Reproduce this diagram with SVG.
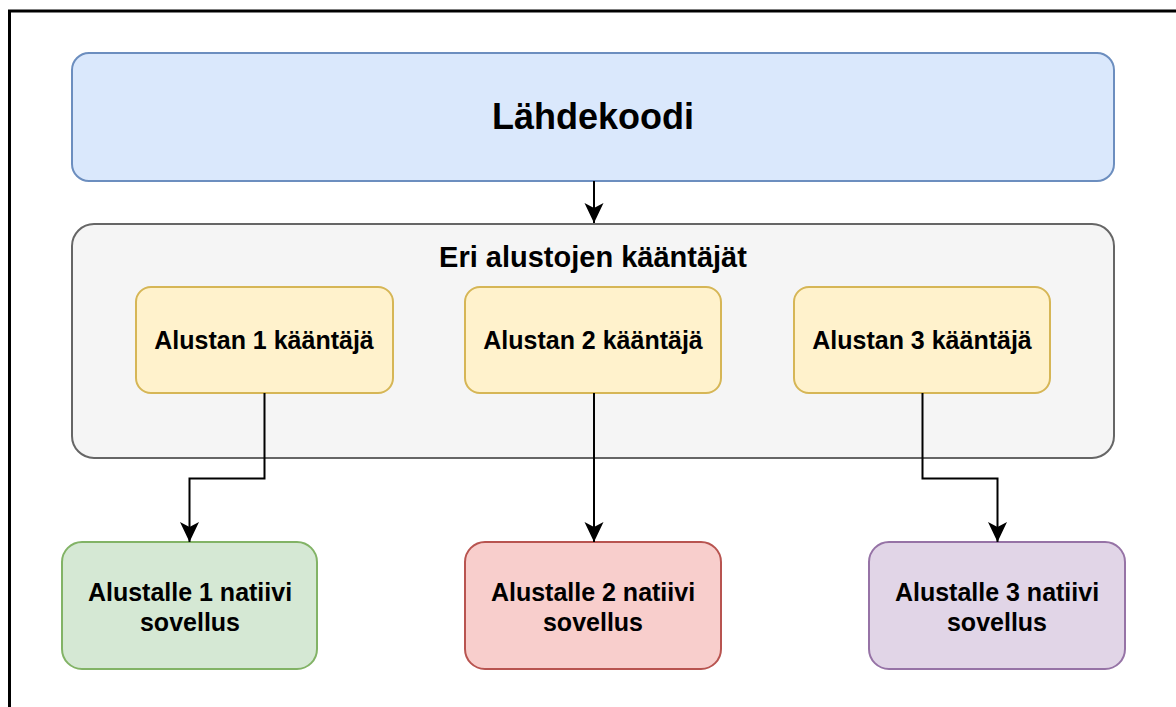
<svg xmlns="http://www.w3.org/2000/svg" width="1176" height="707" viewBox="0 0 1176 707">
<style>
text{font-family:"Liberation Sans",Arial,sans-serif;font-weight:bold;fill:#000;text-anchor:middle}
.box{stroke-width:2}
.edge{fill:none;stroke:#000;stroke-width:2}
.lbl{font-size:25px}
</style>
<defs>
<marker id="arr" markerUnits="userSpaceOnUse" markerWidth="22" markerHeight="22" viewBox="-21 -11 22 22" refX="0" refY="0" orient="auto">
<path d="M0,0 L-20,-9.5 L-15,0 L-20,9.5 Z" fill="#000"/>
</marker>
</defs>
<rect width="1176" height="707" fill="#fff"/>
<path d="M9.5,707 V11 H1176" fill="none" stroke="#000" stroke-width="3"/>
<g id="lahdekoodi">
<rect class="box" x="72" y="53" width="1042" height="128" rx="17" fill="#dae8fc" stroke="#6c8ebf"/>
<text x="593" y="129" style="font-size:36px">Lähdekoodi</text>
</g>
<g id="kaantajat">
<rect class="box" x="72" y="224" width="1042" height="234" rx="22" fill="#f5f5f5" stroke="#666666"/>
<text x="593" y="267" style="font-size:29px">Eri alustojen kääntäjät</text>
</g>
<g id="alusta1">
<rect class="box" x="136" y="287" width="257" height="106" rx="15" fill="#fff2cc" stroke="#d6b656"/>
<text class="lbl" x="264" y="349">Alustan 1 kääntäjä</text>
</g>
<g id="alusta2">
<rect class="box" x="465" y="287" width="256" height="106" rx="15" fill="#fff2cc" stroke="#d6b656"/>
<text class="lbl" x="593" y="349">Alustan 2 kääntäjä</text>
</g>
<g id="alusta3">
<rect class="box" x="794" y="287" width="256" height="106" rx="15" fill="#fff2cc" stroke="#d6b656"/>
<text class="lbl" x="922" y="349">Alustan 3 kääntäjä</text>
</g>
<g id="sovellus1">
<rect class="box" x="62" y="542" width="255" height="127" rx="20" fill="#d5e8d4" stroke="#82b366"/>
<text class="lbl" x="190" y="601">Alustalle 1 natiivi</text>
<text class="lbl" x="190" y="631">sovellus</text>
</g>
<g id="sovellus2">
<rect class="box" x="465" y="542" width="256" height="127" rx="20" fill="#f8cecc" stroke="#b85450"/>
<text class="lbl" x="593" y="601">Alustalle 2 natiivi</text>
<text class="lbl" x="593" y="631">sovellus</text>
</g>
<g id="sovellus3">
<rect class="box" x="869" y="542" width="256" height="127" rx="20" fill="#e1d5e7" stroke="#9673a6"/>
<text class="lbl" x="997" y="601">Alustalle 3 natiivi</text>
<text class="lbl" x="997" y="631">sovellus</text>
</g>
<g id="connectors">
<path class="edge" d="M594,181 V223" marker-end="url(#arr)"/>
<path class="edge" d="M264.5,393 V478.5 H189.5 V542" marker-end="url(#arr)"/>
<path class="edge" d="M594,393 V542" marker-end="url(#arr)"/>
<path class="edge" d="M922.5,393 V478.5 H997.5 V542" marker-end="url(#arr)"/>
</g>
</svg>
